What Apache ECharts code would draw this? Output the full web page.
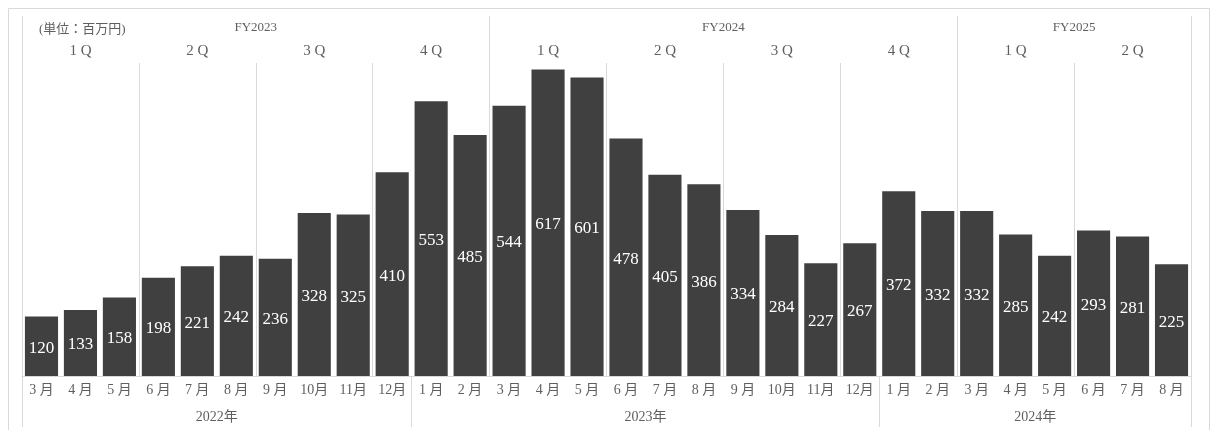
<!DOCTYPE html>
<html>
<head>
<meta charset="utf-8">
<script src="https://cdn.jsdelivr.net/npm/echarts@6/dist/echarts.min.js"></script>
<style>
  html, body { margin: 0; padding: 0; background: #fff; }
  #main { width: 1213px; height: 430px; }
</style>
</head>
<body>
<div id="main"></div>
<script>
// 月別売上（百万円）
const months = ['3 月', '4 月', '5 月', '6 月', '7 月', '8 月', '9 月', '10月', '11月', '12月',
  '1 月', '2 月', '3 月', '4 月', '5 月', '6 月', '7 月', '8 月', '9 月', '10月', '11月', '12月',
  '1 月', '2 月', '3 月', '4 月', '5 月', '6 月', '7 月', '8 月'];
const sales = [120, 133, 158, 198, 221, 242, 236, 328, 325, 410,
  553, 485, 544, 617, 601, 478, 405, 386, 334, 284, 227, 267,
  372, 332, 332, 285, 242, 293, 281, 225];
const years = ['2022年', '2023年', '2024年'];
const yearSpans = [10, 12, 8];
const fiscalYears = ['FY2023', 'FY2024', 'FY2025'];
const fySpans = [12, 12, 6];
const quarters = ['1 Q', '2 Q', '3 Q', '4 Q', '1 Q', '2 Q', '3 Q', '4 Q', '1 Q', '2 Q'];

const N = months.length;
const lineColor = '#d9d9d9';
const textColor = '#5f5f5f';
const serif = '"Liberation Serif", "DejaVu Serif", "Noto Sans CJK JP", serif';

// 区切り位置とラベル中心位置を幅から計算
function groups(spans, names) {
  let pos = 0;
  const bounds = [0];
  const centers = {};
  spans.forEach((s, i) => {
    centers[pos + s / 2] = names[i];
    pos += s;
    bounds.push(pos);
  });
  return { bounds, centers };
}
const yearG = groups(yearSpans, years);
const fyG = groups(fySpans, fiscalYears);
const qG = groups(quarters.map(() => 3), quarters);
const qInner = qG.bounds.filter(b => fyG.bounds.indexOf(b) < 0);

const chart = echarts.init(document.getElementById('main'));

const option = {
  animation: false,
  title: {
    text: '(単位：百万円)',
    left: 34, top: 18,
    textStyle: { fontSize: 13, fontWeight: 'normal', color: textColor, fontFamily: serif }
  },
  graphic: [{
    type: 'rect', left: 6, top: 6, silent: true,
    shape: { width: 1201, height: 440 },
    style: { fill: 'none', stroke: lineColor, lineWidth: 1 }
  }],
  grid: { left: 22, right: 22, top: 63, bottom: 54 },
  xAxis: [
    {
      type: 'category', data: months, position: 'bottom',
      axisLine: { onZero: false, lineStyle: { color: lineColor } },
      axisTick: { show: false },
      axisLabel: { color: textColor, fontSize: 14, fontFamily: serif, margin: 7, interval: 0 }
    },
    {
      type: 'value', min: 0, max: N, position: 'bottom',
      axisLine: { show: false, onZero: false },
      splitLine: { show: false },
      axisTick: { show: true, customValues: yearG.bounds, length: 51, lineStyle: { color: lineColor } },
      axisLabel: {
        customValues: Object.keys(yearG.centers).map(Number),
        formatter: v => yearG.centers[v] || '',
        color: textColor, fontSize: 14, fontFamily: serif, margin: 34
      }
    },
    {
      type: 'value', min: 0, max: N, position: 'top',
      axisLine: { show: false, onZero: false },
      splitLine: { show: false },
      axisTick: { show: true, inside: true, customValues: qInner, length: 313, lineStyle: { color: lineColor } },
      axisLabel: {
        customValues: Object.keys(qG.centers).map(Number),
        formatter: v => qG.centers[v] || '',
        color: textColor, fontSize: 15, fontFamily: serif, margin: 4
      }
    },
    {
      type: 'value', min: 0, max: N, position: 'top', offset: 47,
      axisLine: { show: false, onZero: false },
      splitLine: { show: false },
      axisTick: { show: true, inside: true, customValues: fyG.bounds, length: 360, lineStyle: { color: lineColor } },
      axisLabel: {
        inside: true,
        customValues: Object.keys(fyG.centers).map(Number),
        formatter: v => fyG.centers[v] || '',
        color: textColor, fontSize: 13, fontFamily: serif, margin: 5
      }
    }
  ],
  yAxis: { type: 'value', min: 0, max: 630, show: false, splitLine: { show: false } },
  series: [{
    type: 'bar',
    xAxisIndex: 0,
    data: sales,
    barCategoryGap: '15%',
    itemStyle: { color: '#404040' },
    label: {
      show: true, position: 'inside', offset: [0, 2], color: '#fff',
      fontSize: 17, fontFamily: serif
    }
  }]
};

chart.setOption(option);
</script>
</body>
</html>
